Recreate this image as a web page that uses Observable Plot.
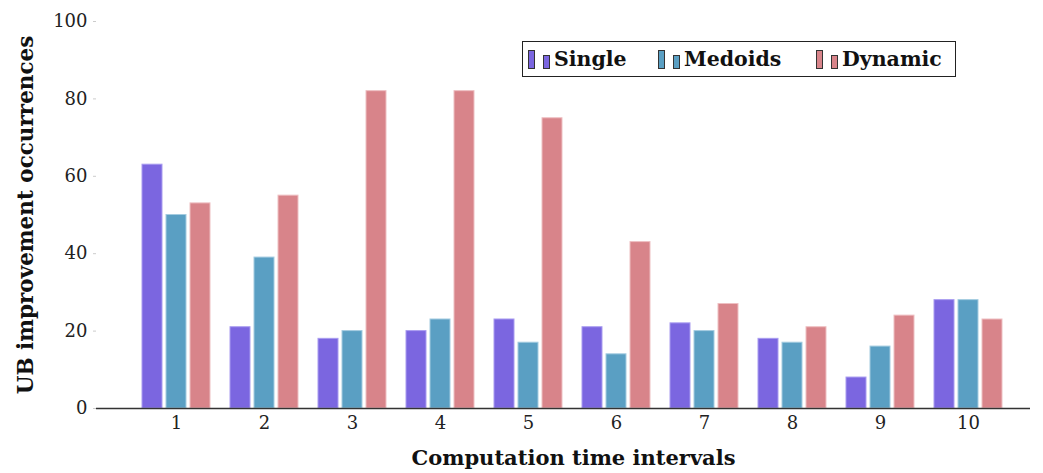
<!DOCTYPE html>
<html><head><meta charset="utf-8">
<script src="https://cdn.jsdelivr.net/npm/d3@7"></script>
<script src="https://cdn.jsdelivr.net/npm/@observablehq/plot@0.6"></script>
<style>
body{margin:0;background:#fff;}
#wrap{position:relative;width:1043px;height:473px;font-family:"DejaVu Serif",serif;}
#legend{position:absolute;left:522px;top:41px;width:432px;height:34px;border:1px solid #222;background:#fff;font-family:"DejaVu Serif",serif;font-weight:bold;font-size:20.5px;color:#111;}
.item{display:flex;align-items:center;position:absolute;top:0;height:34px;}
.sw{display:inline-block;border:1px solid #333;width:5px;}
</style></head>
<body><div id="wrap"></div>
<script>
const intervals = ["1","2","3","4","5","6","7","8","9","10"];
const seriesNames = ["Single","Medoids","Dynamic"];
const single  = [63,21,18,20,23,21,22,18,8,28];
const medoids = [50,39,20,23,17,14,20,17,16,28];
const dynamic = [53,55,82,82,75,43,27,21,24,23];
const yTicks = [0,20,40,60,80,100];
const xTitle = "Computation time intervals";
const yTitle = "UB improvement occurrences";
const colors = ["#7b66e0","#5a9fc3","#d8848a"];
const strokes = ["#a99cf0","#a3cbe0","#eebfc2"];

const rows = (vals) => intervals.map((k,i)=>({interval:k, value:vals[i]}));
const series = [single, medoids, dynamic];
const offsets = [-24,0,24];

const chart = Plot.plot({
  width:1043, height:473,
  marginLeft:96, marginRight:13, marginTop:21, marginBottom:65,
  style:{fontFamily:"DejaVu Serif, serif", fontSize:"18px", color:"#222", background:"#fff"},
  x:{type:"band", domain:intervals, range:[131,1013], paddingInner:0.773, paddingOuter:0.3865},
  y:{domain:[0,100]},
  marks:[
    ...series.map((vals,s)=>Plot.barY(rows(vals),{x:"interval", y:"value", fill:colors[s], stroke:strokes[s], strokeWidth:1, dx:offsets[s]})),
    Plot.ruleY([0],{stroke:"#333", strokeWidth:1.3}),
    Plot.axisY({ticks:yTicks, tickSize:3, stroke:"#ccc", fill:"#222", tickPadding:6, label:null}),
    Plot.axisX({tickSize:0, tickPadding:8, fill:"#222", label:null}),
    Plot.text([yTitle],{frameAnchor:"left", textAnchor:"middle", lineAnchor:"middle", dx:-70, rotate:-90, fontWeight:"bold", fontSize:21.5, fill:"#111"}),
    Plot.text([xTitle],{frameAnchor:"bottom", lineAnchor:"middle", dy:50, dx:10, fontWeight:"bold", fontSize:21, fill:"#111"})
  ]
});
document.getElementById("wrap").appendChild(chart);

const legend = document.createElement("div");
legend.id = "legend";
const lefts = [5,135,293];
seriesNames.forEach((n,s)=>{
  const it = document.createElement("div");
  it.className="item"; it.style.left = lefts[s]+"px";
  it.innerHTML = `<span class="sw" style="background:${colors[s]};height:17px;margin-right:8px"></span><span class="sw" style="background:${colors[s]};height:12px;margin-top:5px;margin-right:4px"></span><span>${n}</span>`;
  legend.appendChild(it);
});
document.getElementById("wrap").appendChild(legend);
</script></body></html>
